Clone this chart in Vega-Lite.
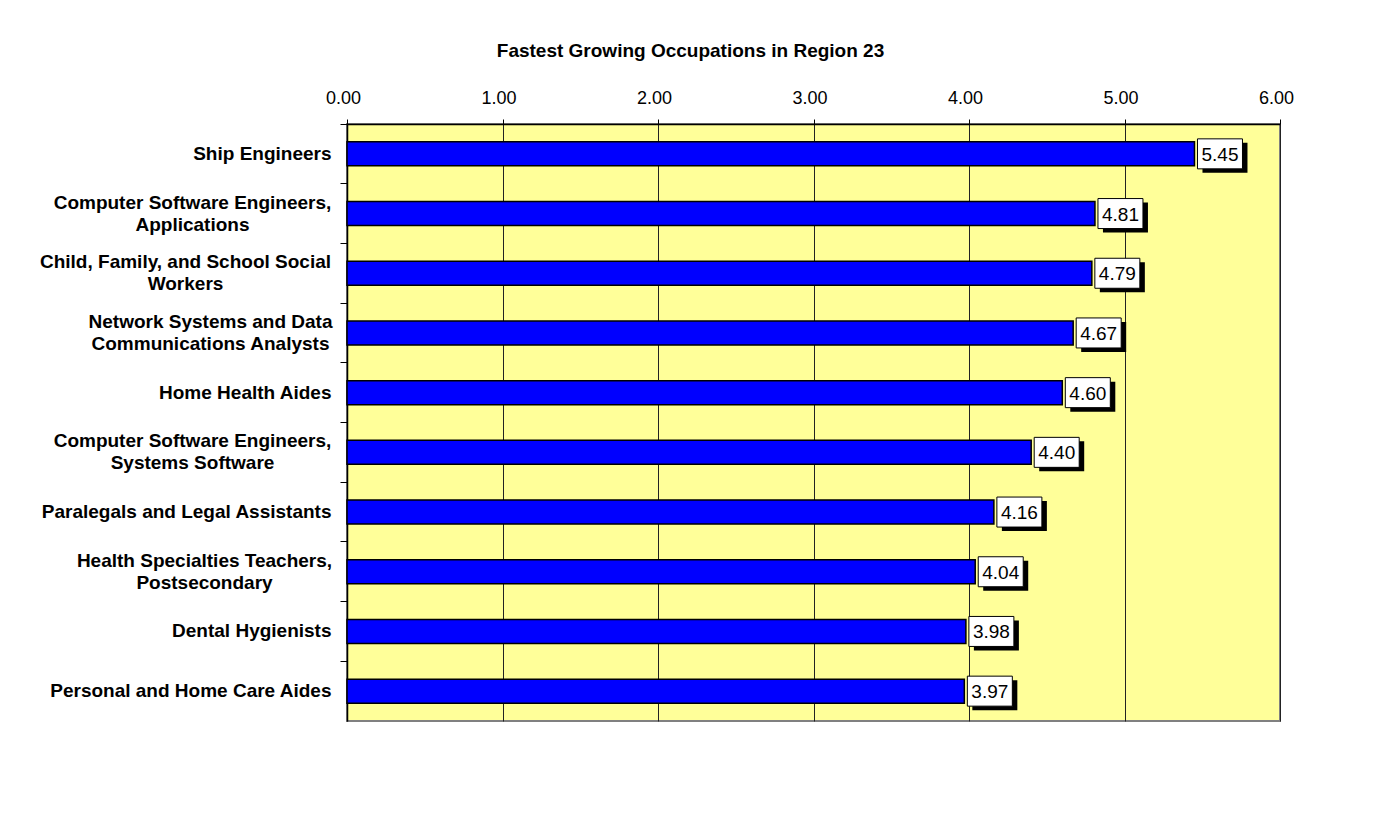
{
  "$schema": "https://vega.github.io/schema/vega-lite/v6.json",
  "width": 933,
  "height": 597,
  "autosize": {"type": "none"},
  "padding": {"left": 347, "top": 124, "right": 98, "bottom": 99},
  "background": "white",
  "title": {
    "text": "Fastest Growing Occupations in Region 23",
    "font": "Liberation Sans",
    "fontSize": 19,
    "fontWeight": "bold",
    "color": "black",
    "anchor": "middle",
    "dx": -123,
    "offset": 28
  },
  "config": {
    "view": {"fill": "#FFFF99", "stroke": "#808080", "strokeWidth": 2},
    "axis": {"labelFont": "Liberation Sans", "labelColor": "black", "domainColor": "black", "tickColor": "black"}
  },
  "data": {
    "values": [
      {"occupation": "Ship Engineers", "value": 5.45},
      {"occupation": "Computer Software Engineers,|Applications", "value": 4.81},
      {"occupation": "Child, Family, and School Social|Workers", "value": 4.79},
      {"occupation": "Network Systems and Data|Communications Analysts", "value": 4.67},
      {"occupation": "Home Health Aides", "value": 4.60},
      {"occupation": "Computer Software Engineers,|Systems Software", "value": 4.40},
      {"occupation": "Paralegals and Legal Assistants", "value": 4.16},
      {"occupation": "Health Specialties Teachers,|Postsecondary", "value": 4.04},
      {"occupation": "Dental Hygienists", "value": 3.98},
      {"occupation": "Personal and Home Care Aides", "value": 3.97}
    ]
  },
  "encoding": {
    "y": {"field": "occupation", "type": "nominal", "sort": null, "scale": {"paddingInner": 0, "paddingOuter": 0}}
  },
  "layer": [
    {
      "mark": {"type": "bar", "height": 24, "fill": "#0000FF", "stroke": "black", "strokeWidth": 1.5},
      "encoding": {
        "x": {
          "field": "value", "type": "quantitative",
          "scale": {"domain": [0, 6], "nice": false},
          "axis": {
            "orient": "top", "title": null, "values": [0, 1, 2, 3, 4, 5, 6], "format": ".2f",
            "grid": true, "gridColor": "#222222", "gridWidth": 1, "gridOpacity": 1,
            "tickSize": 5, "labelFontSize": 18, "labelPadding": 12, "domainWidth": 1.5,
            "labelFlush": false, "labelOffset": -4
          }
        },
        "y": {
          "field": "occupation", "type": "nominal", "sort": null,
          "axis": {
            "title": null, "ticks": false, "labelFontSize": 19, "labelFontWeight": "bold",
            "labelExpr": "split(datum.label, '|')", "labelLineHeight": 22, "labelLimit": 400,
            "domainWidth": 1.5,
            "labelAlign": {"condition": {"test": "indexof(datum.value, '|') >= 0", "value": "center"}, "value": "right"},
            "labelPadding": {
              "condition": [
                {"test": "indexof(datum.value, 'Computer Software') === 0", "value": 155},
                {"test": "indexof(datum.value, 'Child') === 0", "value": 162},
                {"test": "indexof(datum.value, 'Network') === 0", "value": 137},
                {"test": "indexof(datum.value, 'Health Specialties') === 0", "value": 143}
              ],
              "value": 16
            },
            "labelOffset": {"condition": {"test": "indexof(datum.value, '|') >= 0", "value": -11}, "value": 0}
          }
        }
      }
    },
    {
      "mark": {"type": "bar", "height": 30, "fill": "black", "xOffset": 8, "x2Offset": 53, "yOffset": 4},
      "encoding": {
        "x": {"field": "value", "type": "quantitative"},
        "x2": {"field": "value"},
        "y": {
          "field": "occupation", "type": "nominal", "sort": null,
          "axis": {"orient": "left", "title": null, "labels": false, "ticks": true, "tickSize": 7, "bandPosition": 0, "domain": false, "grid": false}
        }
      }
    },
    {
      "mark": {"type": "bar", "height": 30, "fill": "white", "stroke": "black", "strokeWidth": 1, "xOffset": 3, "x2Offset": 48},
      "encoding": {
        "x": {"field": "value", "type": "quantitative"},
        "x2": {"field": "value"},
        "y": {"field": "occupation", "type": "nominal", "sort": null, "axis": null}
      }
    },
    {
      "mark": {"type": "text", "font": "Liberation Sans", "fontSize": 19, "color": "black", "align": "center", "baseline": "middle", "dx": 25.5, "dy": 1},
      "encoding": {
        "x": {"field": "value", "type": "quantitative"},
        "y": {"field": "occupation", "type": "nominal", "sort": null, "axis": null},
        "text": {"field": "value", "type": "quantitative", "format": ".2f"}
      }
    }
  ],
  "resolve": {"axis": {"y": "independent"}}
}
